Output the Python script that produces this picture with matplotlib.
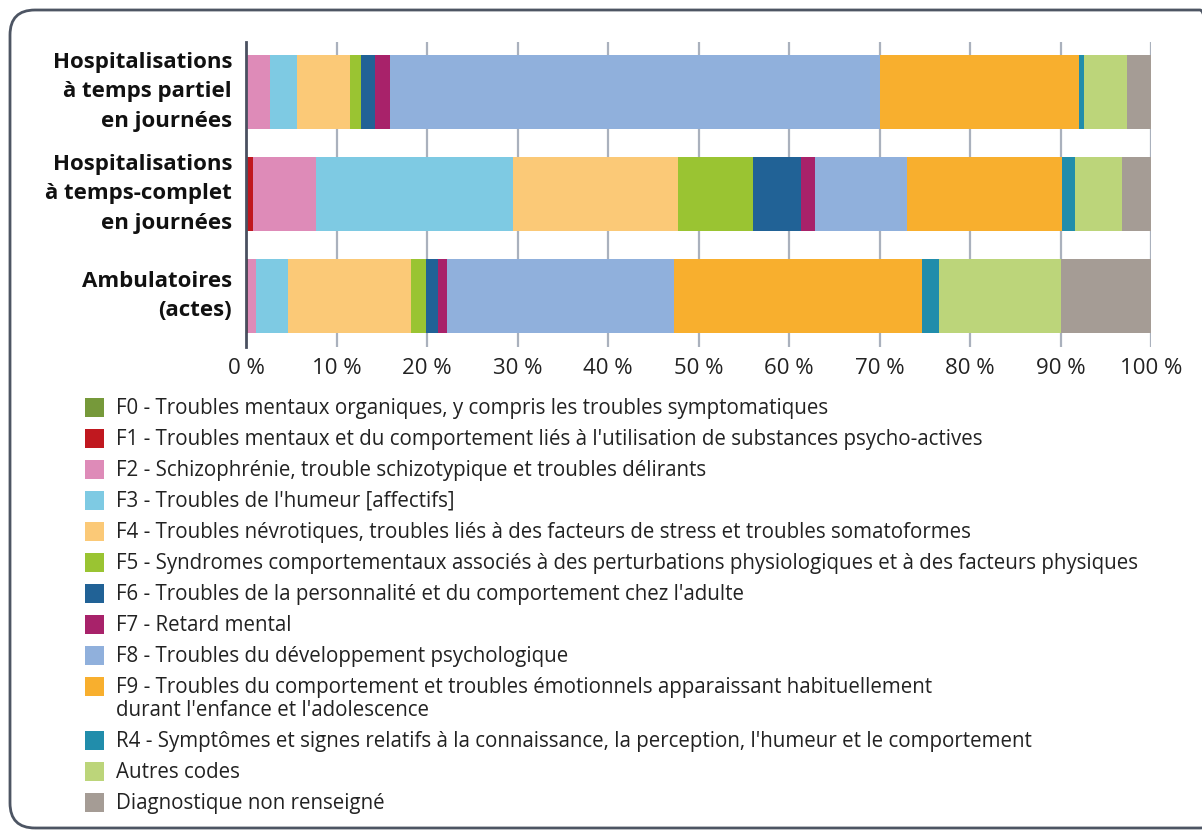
import matplotlib
matplotlib.use("Agg")
import matplotlib.pyplot as plt
from matplotlib.patches import FancyBboxPatch, Rectangle
import numpy as np

plt.rcParams['font.family'] = ['Open Sans', 'DejaVu Sans']

# categories (top to bottom)
categories = ["Hospitalisations\nà temps partiel\nen journées",
              "Hospitalisations\nà temps-complet\nen journées",
              "Ambulatoires\n(actes)"]

# share (%) of each diagnostic group, per category
codes = ["F0", "F1", "F2", "F3", "F4", "F5", "F6", "F7", "F8", "F9", "R4", "Autres", "ND"]
f0 = [0.10, 0.15, 0.05]
f1 = [0.00, 0.65, 0.15]
f2 = [2.55, 6.90, 0.85]
f3 = [3.00, 21.75, 3.60]
f4 = [5.80, 18.30, 13.60]
f5 = [1.25, 8.30, 1.60]
f6 = [1.60, 5.25, 1.35]
f7 = [1.65, 1.60, 1.00]
f8 = [54.15, 10.15, 25.10]
f9 = [21.95, 17.10, 27.40]
r4 = [0.55, 1.50, 1.90]
autres = [4.70, 5.15, 13.45]
non_renseigne = [2.70, 3.20, 9.95]

legend_labels = [
    "F0 - Troubles mentaux organiques, y compris les troubles symptomatiques",
    "F1 - Troubles mentaux et du comportement liés à l'utilisation de substances psycho-actives",
    "F2 - Schizophrénie, trouble schizotypique et troubles délirants",
    "F3 - Troubles de l'humeur [affectifs]",
    "F4 - Troubles névrotiques, troubles liés à des facteurs de stress et troubles somatoformes",
    "F5 - Syndromes comportementaux associés à des perturbations physiologiques et à des facteurs physiques",
    "F6 - Troubles de la personnalité et du comportement chez l'adulte",
    "F7 - Retard mental",
    "F8 - Troubles du développement psychologique",
    "F9 - Troubles du comportement et troubles émotionnels apparaissant habituellement\ndurant l'enfance et l'adolescence",
    "R4 - Symptômes et signes relatifs à la connaissance, la perception, l'humeur et le comportement",
    "Autres codes",
    "Diagnostique non renseigné",
]

colors = ["#76993a", "#c0181f", "#de8bb8", "#7ecae3", "#fbc977", "#9ac432",
          "#216296", "#a8226a", "#90b0dc", "#f8af2e", "#218dab", "#bcd57a", "#a59c95"]

series = [f0, f1, f2, f3, f4, f5, f6, f7, f8, f9, r4, autres, non_renseigne]

W, H = 1202, 831
fig = plt.figure(figsize=(W / 100, H / 100), dpi=100)
ax = fig.add_axes([246 / W, 484 / H, 905 / W, 305 / H])

y = np.arange(len(categories))
left = np.zeros(len(categories))
for vals, col in zip(series, colors):
    ax.barh(y, vals, left=left, height=0.72, color=col, zorder=3)
    left += np.array(vals)

ax.set_xlim(0, 100)
ax.set_ylim(2.5, -0.49)
ax.set_xticks(np.arange(0, 101, 10))
ax.set_xticklabels([f"{v} %" for v in range(0, 101, 10)])
ax.set_yticks(y)
ax.set_yticklabels(categories, fontweight='bold', fontsize=16, linespacing=1.55)
for t in ax.get_yticklabels():
    t.set_va('center')
ax.tick_params(axis='y', length=0, pad=10, colors='#111111')
ax.tick_params(axis='x', length=0, pad=8, labelsize=16, colors='#222222')
ax.xaxis.grid(True, color='#aab1bd', linewidth=1.6, zorder=0)
for s in ['top', 'right', 'bottom']:
    ax.spines[s].set_visible(False)
ax.spines['left'].set_color('#4a5060')
ax.spines['left'].set_linewidth(2)
ax.spines['left'].set_zorder(4)

# legend, drawn by hand so the two-line entry keeps its swatch on the first line
row_y = 407   # pixels from the top
for lab, col in zip(legend_labels, colors):
    fig.patches.append(Rectangle((85 / W, 1 - (row_y + 9.5) / H), 19 / W, 19 / H,
                                 transform=fig.transFigure, facecolor=col,
                                 edgecolor='none'))
    fig.text(116 / W, 1 - (row_y - 9) / H, lab, fontsize=14.8, color='#222222',
             va='top', ha='left', linespacing=1.1)
    row_y += 31 + 23 * lab.count("\n")

# rounded frame around the figure
frame = FancyBboxPatch((10, 3), 1215, 818, boxstyle="round,pad=0,rounding_size=25",
                       transform=None, facecolor='none', edgecolor='#4d5563',
                       linewidth=2)
fig.patches.append(frame)

fig.savefig("out.png", dpi=100)
